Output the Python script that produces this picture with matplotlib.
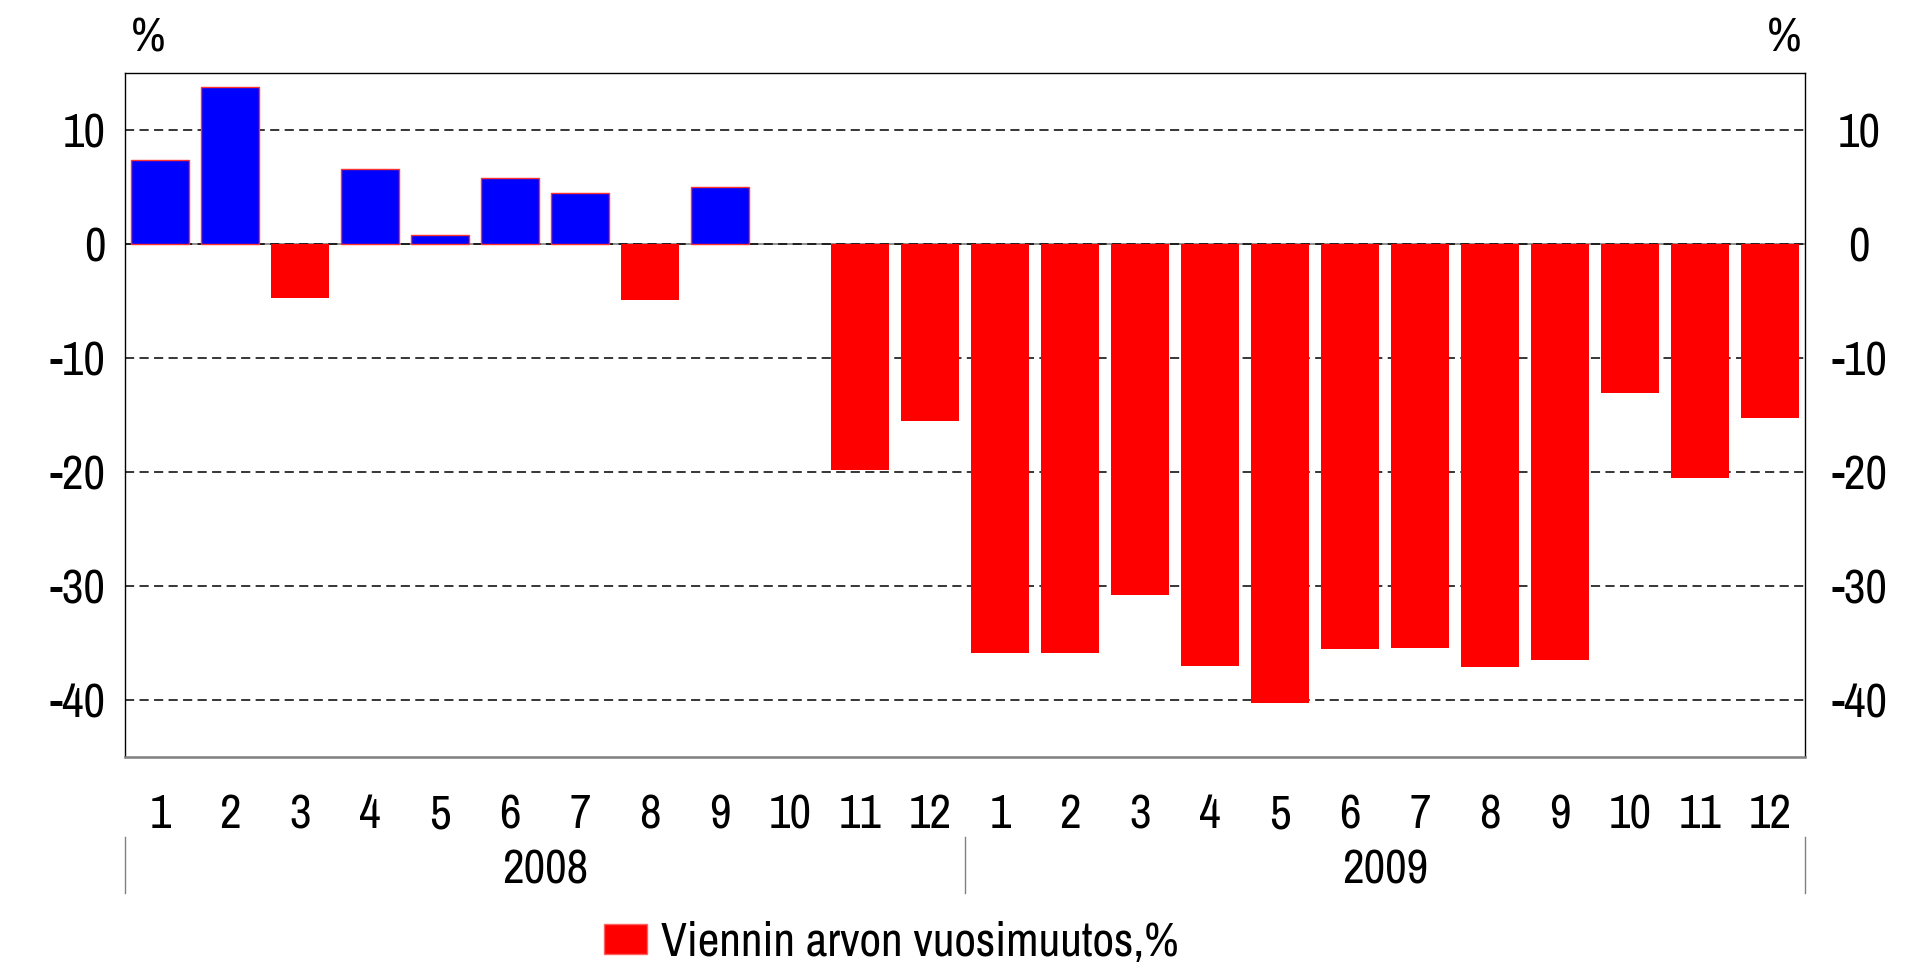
import matplotlib
matplotlib.use("Agg")
import matplotlib.pyplot as plt
import matplotlib.transforms as mtransforms
from matplotlib.patches import Patch
from matplotlib.transforms import blended_transform_factory

plt.rcParams['font.family'] = ['Archivo Narrow', 'Liberation Sans', 'DejaVu Sans']
plt.rcParams['axes.unicode_minus'] = False

# ---- data ----
months = ["1", "2", "3", "4", "5", "6", "7", "8", "9", "10", "11", "12",
          "1", "2", "3", "4", "5", "6", "7", "8", "9", "10", "11", "12"]
years = ["2008", "2009"]
values = [7.4, 13.8, -4.7, 6.6, 0.8, 5.8, 4.5, -4.9, 5.0, 0.0, -19.8, -15.5,
          -35.9, -35.9, -30.8, -37.0, -40.3, -35.5, -35.4, -37.1, -36.5, -13.1, -20.5, -15.3]
yticks = [-40, -30, -20, -10, 0, 10]
legend_label = "Viennin arvon vuosimuutos,%"

W, H = 1913, 966
fig = plt.figure(figsize=(W / 100, H / 100), dpi=100)
left, right, top, bottom = 125, 1805, 73, 757
ax = fig.add_axes([left / W, 1 - bottom / H, (right - left) / W, (bottom - top) / H])

x = list(range(len(values)))
pos_color = "#0000FF"
neg_color = "#FF0000"
colors = [pos_color if v > 0 else neg_color for v in values]
edges = ["#FF3030" if v > 0 else "none" for v in values]
ax.bar(x, values, width=0.82, color=colors, edgecolor=edges, linewidth=1.0, zorder=3)

ax.set_xlim(-0.5, len(values) - 0.5)
ax.set_ylim(-45, 15)

# grid
ax.axhline(0, color="#808080", lw=1.2, zorder=1)
for yv in yticks:
    ax.axhline(yv, color="black", lw=1.1, linestyle=(0, (6, 3.5)), zorder=2)

# spines
for s in ["left", "top", "right"]:
    ax.spines[s].set_color("black")
    ax.spines[s].set_linewidth(1.0)
ax.spines["bottom"].set_color("#808080")
ax.spines["bottom"].set_linewidth(1.8)

fs = 34
ax.set_yticks(yticks)
ax.set_yticklabels([str(v) for v in yticks])
ax.tick_params(axis="y", length=0, labelsize=fs, pad=14, labelright=True)
for tick in ax.yaxis.get_major_ticks():
    tick.label2.set_horizontalalignment("center")

ax.set_xticks(x)
ax.set_xticklabels(months)
ax.tick_params(axis="x", length=0, labelsize=fs, pad=26)

# right-hand labels centered at x ~1859 px
offset = mtransforms.ScaledTranslation((1859 - right - 14 * 100 / 72) / 100, 0, fig.dpi_scale_trans)
for tick in ax.yaxis.get_major_ticks():
    tick.label2.set_transform(tick.label2.get_transform() + offset)

# year labels and separators
trans = blended_transform_factory(ax.transData, ax.transAxes)
y_top = (bottom - 837) / (bottom - top)
y_bot = (bottom - 893) / (bottom - top)
for xs in [-0.5, 11.5, 23.5]:
    ax.plot([xs, xs], [y_top, y_bot], transform=trans, color="#808080", lw=1.0, clip_on=False)
y_year = (bottom - 866) / (bottom - top)
for i, yr in enumerate(years):
    ax.text(5.5 + 12 * i, y_year, yr, transform=trans, ha="center", va="center_baseline", fontsize=fs)

# percent signs
fig.text(148 / W, 1 - 34 / H, "%", ha="center", va="center_baseline", fontsize=fs)
fig.text(1784 / W, 1 - 34 / H, "%", ha="center", va="center_baseline", fontsize=fs)

# legend
handle = Patch(facecolor=neg_color, edgecolor="#FF6060", linewidth=1.0)
fig.legend([handle], [legend_label], loc="center left",
           bbox_to_anchor=(604 / W, 1 - 942 / H), frameon=False, fontsize=fs,
           handlelength=0.9, handleheight=0.62, handletextpad=0.3,
           borderpad=0, borderaxespad=0)

fig.savefig("out.png", dpi=100)
